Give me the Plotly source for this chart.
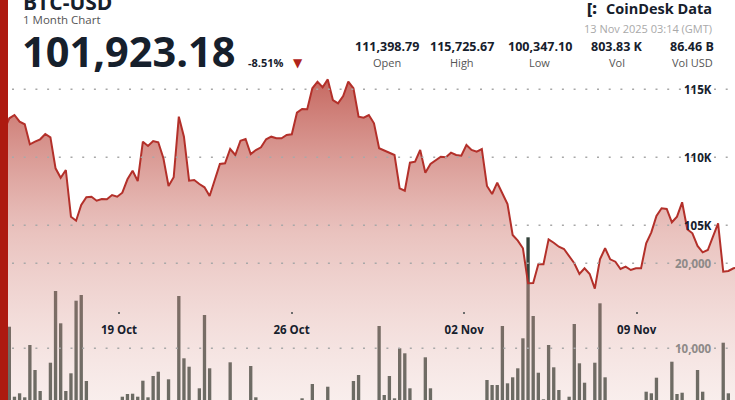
import pandas as pd
import plotly.graph_objects as go

W, H = 735, 400

# 5-hour points, 14 Oct 08:14 -> 13 Nov 03:14 (GMT)
dates = pd.date_range("2025-10-14 08:14", periods=144, freq="5h")

price = [
    112007, 112868, 113110, 112618, 112426, 110956, 111147, 111323, 111713, 111471,
    109191, 108500, 109066, 105632, 105338, 106493, 107059, 107103, 106809, 106934,
    106912, 107228, 107103, 107397, 108382, 109015, 108257, 111147, 110831, 111199,
    111103, 109926, 107890, 108529, 112985, 111515, 108279, 108331, 108037, 107794,
    107154, 108331, 109507, 109559, 110610, 110169, 111221, 111346, 110243, 110537,
    110735, 111323, 111515, 111397, 111397, 111640, 111691, 113279, 113551, 113529,
    115074, 115559, 115147, 115726, 114213, 113971, 114507, 115559, 115074, 112985,
    112912, 113110, 112500, 110662, 110485, 110338, 110169, 107721, 107544, 109603,
    109676, 110537, 108868, 109507, 109801, 110044, 110000, 110338, 110169, 110118,
    110904, 110537, 110412, 110610, 107890, 107301, 108132, 107353, 106566, 104287,
    103868, 103309, 100735, 100760, 102132, 102132, 103970, 103720, 103426, 103257,
    102743, 102206, 101419, 101838, 101419, 100347, 102500, 103309, 102500, 102323,
    101787, 101956, 101713, 101838, 101838, 103676, 104485, 105684, 106250, 106198,
    105221, 105632, 106691, 104706, 104412, 103478, 103015, 103184, 104162, 105147,
    101588, 101640, 101838, 101923,
]

volume = [
    11683, 12541, 4306, 4706, 4235, 10388, 7447, 4977, 3000, 8306,
    16741, 12941, 4977, 7059, 15600, 16271, 6153, 3100, 2800, 3400,
    2600, 3200, 3500, 4306, 4624, 4659, 4306, 6188, 4235, 6741,
    7247, 3400, 6353, 3600, 16153, 8824, 7835, 3700, 5294, 13918,
    7647, 3500, 3200, 3600, 8353, 3300, 3000, 3400, 7918, 4235,
    3100, 2900, 3300, 2700, 3000, 3500, 3200, 3700, 4118, 3500,
    5800, 3300, 3600, 5482, 3400, 3100, 3600, 3800, 6153, 6859,
    3500, 3200, 3700, 12624, 4506, 6741, 4118, 10000, 9412, 5294,
    3600, 3300, 8941, 5294, 3400, 3000, 3300, 2800, 3100, 3500,
    3200, 2900, 3400, 3700, 6271, 5682, 5682, 12624, 5882, 6588,
    7647, 11176, 23059, 13800, 7129, 4000, 10388, 7765, 5094, 3600,
    4306, 12859, 8235, 5953, 3500, 8306, 15294, 6588, 3400, 3100,
    3500, 2900, 3200, 3300, 3600, 4894, 4706, 6541, 3400, 3700,
    8424, 4624, 4776, 3600, 3300, 7447, 4894, 3500, 3200, 3600,
    10659, 4706, 3500, 3800,
]

price_ticks = [115000, 110000, 105000]
price_tick_text = ["115K", "110K", "105K"]
vol_ticks = [20000, 10000]
vol_tick_text = ["20,000", "10,000"]
date_ticks = ["2025-10-19", "2025-10-26", "2025-11-02", "2025-11-09"]
date_tick_text = ["19 Oct", "26 Oct", "02 Nov", "09 Nov"]

stat_values = ["111,398.79", "115,725.67", "100,347.10", "803.83 K", "86.46 B"]
stat_labels = ["Open", "High", "Low", "Vol", "Vol USD"]
stat_x = [387, 462, 539.5, 616.5, 692]

DARK = "#16202c"
FONT = "Open Sans"

fig = go.Figure()

# volume bars sit underneath the translucent price area
fig.add_trace(go.Bar(
    x=dates, y=volume, yaxis="y",
    marker=dict(color="#34433b", line=dict(width=0)),
    hoverinfo="skip",
))

fig.add_trace(go.Scatter(
    x=dates, y=price, yaxis="y2", mode="lines",
    line=dict(color="#b3302a", width=2),
    fill="tozeroy",
    fillgradient=dict(
        type="vertical", start=92154, stop=116500,
        colorscale=[[0, "rgba(234,198,193,0.30)"],
                    [0.5, "rgba(214,140,132,0.52)"],
                    [1, "rgba(180,58,48,0.80)"]],
    ),
))

fig.update_layout(
    width=W, height=H,
    margin=dict(l=0, r=0, t=0, b=0),
    paper_bgcolor="white", plot_bgcolor="white",
    showlegend=False, bargap=0.35,
    xaxis=dict(
        type="date", range=["2025-10-14 04:09", "2025-11-12 23:42"],
        anchor="free", position=1 - 311 / H,
        showgrid=False, zeroline=False, showline=False,
        ticks="outside", ticklen=2, tickwidth=2, tickcolor="#6d6d6d",
        tickvals=date_ticks, ticktext=date_tick_text,
        ticklabelstandoff=6,
        tickfont=dict(family=FONT, size=11.5, color=DARK, weight=700),
    ),
    yaxis=dict(range=[3918, 50976], domain=[0, 1], visible=False),
    yaxis2=dict(range=[92154, 121566], overlaying="y", visible=False),
)

# dotted gridlines drawn over the area fill
for v in price_ticks:
    fig.add_shape(type="line", xref="paper", yref="y2", x0=12 / W, x1=1, y0=v, y1=v,
                  line=dict(color="#a8a8a8", width=1.6, dash="2px,9.7px"), layer="above")
for v in vol_ticks:
    fig.add_shape(type="line", xref="paper", yref="y", x0=12 / W, x1=1, y0=v, y1=v,
                  line=dict(color="#a8a8a8", width=1.6, dash="2px,9.7px"), layer="above")

for v, t in zip(price_ticks, price_tick_text):
    fig.add_annotation(x=714 / W, y=v, xref="paper", yref="y2", text=t, showarrow=False,
                       xanchor="right", yanchor="middle",
                       font=dict(family=FONT, size=11.5, color=DARK, weight=700))
for v, t in zip(vol_ticks, vol_tick_text):
    fig.add_annotation(x=714 / W, y=v, xref="paper", yref="y", text=t, showarrow=False,
                       xanchor="right", yanchor="middle",
                       font=dict(family=FONT, size=11.5, color="#8e8a88", weight=700))

# red page border on the left
fig.add_shape(type="rect", xref="paper", yref="paper", x0=0, x1=8 / W, y0=0, y1=1,
              fillcolor="#ad1a10", line=dict(width=0), layer="above")


def label(x, y, text, size, color, weight=400, anchor="left", family=FONT):
    fig.add_annotation(x=x / W, y=1 - y / H, xref="paper", yref="paper", text=text,
                       showarrow=False, xanchor=anchor, yanchor="middle",
                       font=dict(family=family, size=size, color=color, weight=weight))


# header
label(21, 2, "BTC-USD", 21, DARK, 700)
label(21, 19.5, "1 Month Chart", 11.5, "#555555")
label(20, 51, "101,923.18", 41.5, DARK, 700)
label(246, 62.5, "-8.51%", 11, DARK, 700)
label(298, 62.5, "▼", 12, "#b0241a", anchor="center", family="DejaVu Sans")

label(585, 8.5, "[:", 16, DARK, 800)
label(714, 8.5, "CoinDesk Data", 14.5, DARK, 700, anchor="right")
label(714, 28.5, "13 Nov 2025 03:14 (GMT)", 11, "#a9a9a9", anchor="right")

for x, v, t in zip(stat_x, stat_values, stat_labels):
    label(x, 47, v, 12.5, DARK, 700, anchor="center")
    label(x, 62, t, 11, "#555555", anchor="center")

# drop the browser's default 8px body margin so the chart fills the window
fig.write_html("out.html", config={"displayModeBar": False},
               post_script="document.body.style.margin='0';")
